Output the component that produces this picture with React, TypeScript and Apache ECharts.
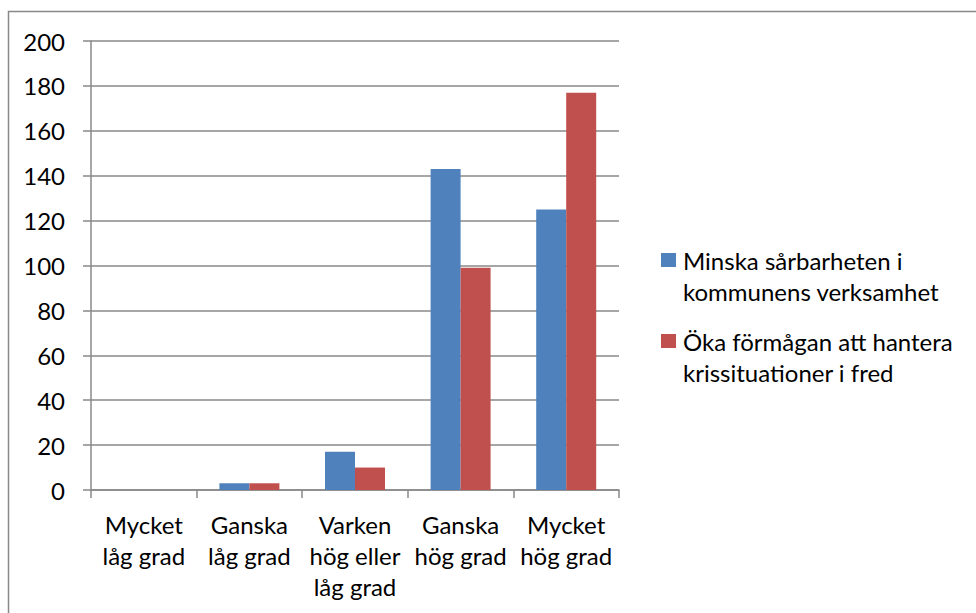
import React, { useEffect, useRef } from "react";
import * as echarts from "echarts";

const categories = [
  "Mycket\nlåg grad",
  "Ganska\nlåg grad",
  "Varken\nhög eller\nlåg grad",
  "Ganska\nhög grad",
  "Mycket\nhög grad",
];
const seriesNames = [
  "Minska sårbarheten i\nkommunens verksamhet",
  "Öka förmågan att hantera\nkrissituationer i fred",
];
const seriesA = [0, 3, 17, 143, 125];
const seriesB = [0, 3, 10, 99, 177];
const colors = ["#4F81BD", "#C0504D"];
const yTicks = { min: 0, max: 200, interval: 20 };

const FONT = "Lato";
const FS = 24;

export default function App() {
  const ref = useRef<HTMLDivElement>(null);
  useEffect(() => {
    const chart = echarts.init(ref.current!, null, { renderer: "svg" });
    const legendGraphics: any[] = [];
    seriesNames.forEach((name, i) => {
      const top = 253 + i * 81;
      legendGraphics.push({
        type: "rect",
        shape: { x: 661, y: top, width: 15, height: 14 },
        style: { fill: colors[i] },
      });
      legendGraphics.push({
        type: "text",
        x: 683,
        y: top - 8,
        style: {
          text: name,
          font: `${FS}px ${FONT}`,
          fill: "#000",
          lineHeight: 31,
          textVerticalAlign: "top",
        },
      });
    });
    chart.setOption({
      animation: false,
      textStyle: { fontFamily: FONT },
      grid: { left: 91, right: 357, top: 41, bottom: 123, containLabel: false },
      xAxis: {
        type: "category",
        data: categories,
        axisLine: { lineStyle: { color: "#888", width: 1.5 } },
        axisTick: { show: true, length: 8, alignWithLabel: false, lineStyle: { color: "#888", width: 1.5 } },
        axisLabel: {
          interval: 0,
          fontSize: FS,
          lineHeight: 31,
          color: "#000",
          margin: 19,
          fontFamily: FONT,
        },
      },
      yAxis: {
        type: "value",
        min: yTicks.min,
        max: yTicks.max,
        interval: yTicks.interval,
        axisLine: { show: true, lineStyle: { color: "#888", width: 1.5 } },
        axisTick: { show: true, length: 8, lineStyle: { color: "#888", width: 1.5 } },
        splitLine: { lineStyle: { color: "#888", width: 1.5 } },
        axisLabel: { fontSize: FS, color: "#000", margin: 26, fontFamily: FONT },
      },
      graphic: [
        {
          type: "rect",
          shape: { x: 8.5, y: 11.5, width: 1200, height: 800 },
          style: { fill: "none", stroke: "#888", lineWidth: 1.5 },
          z: -10,
        },
        ...legendGraphics,
      ],
      series: [
        {
          type: "bar",
          name: seriesNames[0],
          data: seriesA,
          barWidth: 30,
          barGap: "0%",
          itemStyle: { color: colors[0] },
        },
        {
          type: "bar",
          name: seriesNames[1],
          data: seriesB,
          barWidth: 30,
          barGap: "0%",
          itemStyle: { color: colors[1] },
        },
      ],
    });
    return () => chart.dispose();
  }, []);
  return (
    <div
      ref={ref}
      style={{ position: "fixed", left: 0, top: 0, width: 976, height: 613, background: "#fff" }}
    />
  );
}
